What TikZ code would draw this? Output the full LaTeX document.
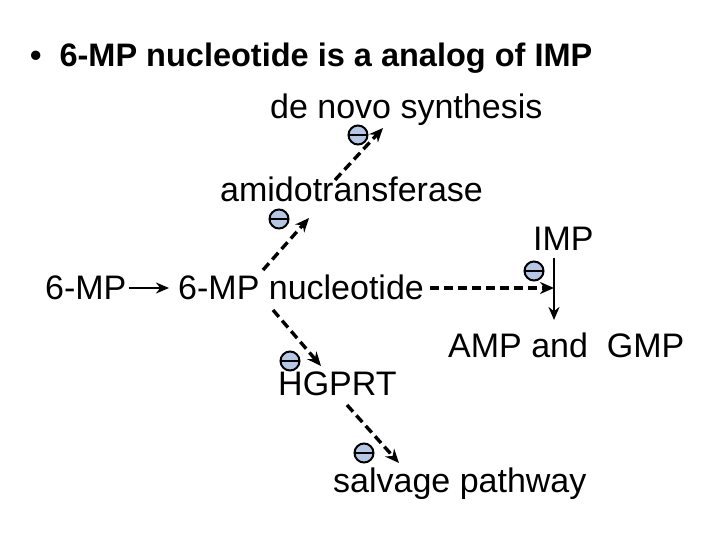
\documentclass[tikz,border=0pt]{standalone}
\usepackage{fontspec}
\setmainfont{Liberation Sans}
\usetikzlibrary{arrows.meta}
\definecolor{inhibblue}{HTML}{B4C8E6}

\begin{document}
\begin{tikzpicture}[x=1pt, y=-1pt, font=\fontsize{34}{40}\selectfont,
  lbl/.style={anchor=base west, inner sep=0pt},
  inhib/.style={circle, draw, line width=2pt, fill=inhibblue, minimum size=19pt, inner sep=0pt,
    path picture={\draw[line width=2.4pt] (path picture bounding box.west) -- (path picture bounding box.east);}},
  dasharrow/.style={-{Stealth[length=14pt, width=12pt]}, line width=3.4pt, dash pattern=on 9pt off 5pt},
  solidarrow/.style={-{Stealth[length=13pt, width=11pt]}, line width=2.2pt}]
  \useasboundingbox (0,0) rectangle (720,540);

  % --- texts ---
  \node[lbl, font=\fontsize{32.5}{38}\selectfont\bfseries] (title) at (30,67) {\textbullet\hspace{18pt}6-MP nucleotide is a analog of IMP};
  \node[lbl] (denovo) at (270,119) {de novo synthesis};
  \node[lbl] (amido) at (220,202) {amidotransferase};
  \node[lbl] (imp) at (533,251) {IMP};
  \node[lbl] (mp) at (45,299) {6-MP};
  \node[lbl] (nuc) at (178,299) {6-MP nucleotide};
  \node[lbl] (ampgmp) at (448,357) {AMP and\ \ GMP};
  \node[lbl] (hgprt) at (278,395) {HGPRT};
  \node[lbl] (salvage) at (333,492) {salvage pathway};

  % --- inhibition marks ---
  \node[inhib] (i1) at (358,135) {};
  \node[inhib] (i2) at (279,219) {};
  \node[inhib] (i3) at (534,271) {};
  \node[inhib] (i4) at (290,361) {};
  \node[inhib] (i5) at (364,453) {};

  % --- arrow ends ---
  \coordinate (a1s) at (335,180);
  \coordinate (a1e) at (383,128);
  \coordinate (a2s) at (263,270);
  \coordinate (a2e) at (309,218);
  \coordinate (a3s) at (273,310);
  \coordinate (a3e) at (321,366);
  \coordinate (a4s) at (347,405);
  \coordinate (a4e) at (399,463);
  \coordinate (hs) at (430,288);
  \coordinate (he) at (554,288);
  \coordinate (vs) at (554,258);
  \coordinate (ve) at (554,320);

  \draw[solidarrow] (mp.east |- 0,288) ++(2,0) -- ([xshift=-9pt]nuc.west |- 0,288);
  \draw[dasharrow] (a1s) -- (a1e);
  \draw[dasharrow] (a2s) -- (a2e);
  \draw[dasharrow] (a3s) -- (a3e);
  \draw[dasharrow] (a4s) -- (a4e);
  \draw[dasharrow] (hs) -- (he);
  \draw[solidarrow] (vs) -- (ve);
\end{tikzpicture}
\end{document}
